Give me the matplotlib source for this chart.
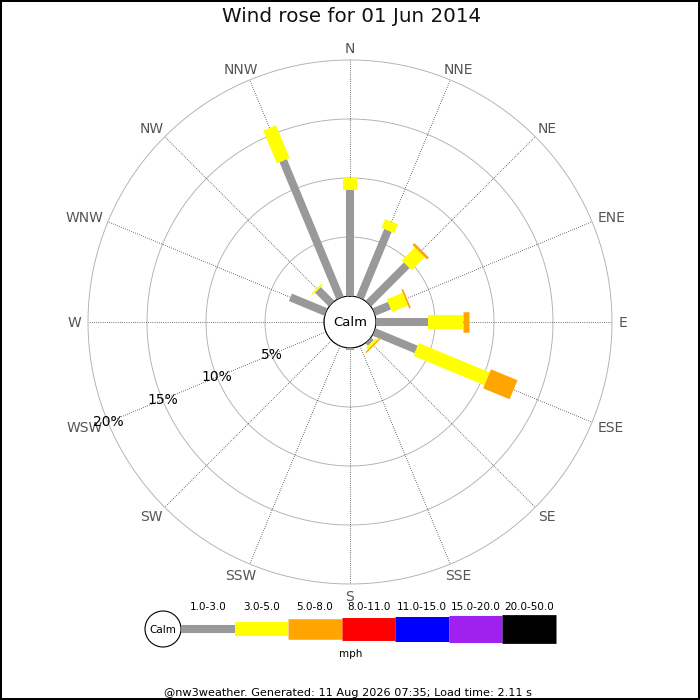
import numpy as np
import matplotlib
matplotlib.use("Agg")
import matplotlib.pyplot as plt
from matplotlib.patches import Circle

# ---------------- data ----------------
directions = ["N", "NNE", "NE", "ENE", "E", "ESE", "SE", "SSE",
              "S", "SSW", "SW", "WSW", "W", "WNW", "NW", "NNW"]
speed_bins = ["1.0-3.0", "3.0-5.0", "5.0-8.0", "8.0-11.0",
              "11.0-15.0", "15.0-20.0", "20.0-50.0"]
bin_colors = ["#999999", "#ffff00", "#ffa500", "#ff0000",
              "#0000ff", "#a020f0", "#000000"]
# percentage of time per direction for each speed bin
pct_1_3   = [9.0, 6.2, 4.6, 1.42, 4.38, 3.87, 0.30, 0.0, 0.15, 0.05, 0.0, 0.0, 0.0, 3.26, 1.65, 12.6]
pct_3_5   = [1.0, 0.8, 1.56, 1.45, 3.02, 6.50, 0.22, 0.0, 0.0, 0.0, 0.0, 0.0, 0.0, 0.0, 0.15, 3.0]
pct_5_8   = [0.0, 0.0, 0.23, 0.15, 0.48, 2.43, 0.12, 0.0, 0.0, 0.0, 0.0, 0.0, 0.0, 0.0, 0.0, 0.0]
pct_8_11  = [0.0] * 16
pct_11_15 = [0.0] * 16
pct_15_20 = [0.0] * 16
pct_20_50 = [0.0] * 16
ring_values = [5, 10, 15, 20]
ring_labels = ["5%", "10%", "15%", "20%"]
title = "Wind rose for 01 Jun 2014"
unit_label = "mph"
footer = "@nw3weather. Generated: 11 Aug 2026 07:35; Load time: 2.11 s"

series = [pct_1_3, pct_3_5, pct_5_8, pct_8_11, pct_11_15, pct_15_20, pct_20_50]
bar_widths_pt = [5.8, 10.0, 14.8, 16.5, 18.0, 19.5, 20.7]

# ---------------- figure ----------------
W = H = 700
fig = plt.figure(figsize=(7, 7), dpi=100, facecolor="white",
                 edgecolor="black", linewidth=1.5)

cx, cy, R = 350, 322, 262
calm_r = 26
ax = fig.add_axes([(cx - R) / W, (H - cy - R) / H, 2 * R / W, 2 * R / H],
                  projection="polar")
ax.set_theta_zero_location("N")
ax.set_theta_direction(-1)
rmax = 20.0
ax.set_ylim(0, rmax)
ax.set_rorigin(-rmax * calm_r / (R - calm_r))
ax.grid(False)
ax.set_xticks([])
ax.set_yticks([])
for s in ax.spines.values():
    s.set_visible(False)
ax.patch.set_alpha(0)

full = np.linspace(0, 2 * np.pi, 721)
for rv in ring_values:
    ax.plot(full, np.full_like(full, rv), color="#b0b0b0", lw=0.65,
            zorder=1, clip_on=False)
# calm circle edge
ax.plot(full, np.zeros_like(full), color="#aaaaaa", lw=0.7, zorder=1, clip_on=False)

thetas = np.deg2rad(np.arange(16) * 22.5)
for t in thetas:
    ax.plot([t, t], [0, rmax], color="#444444", lw=0.6,
            linestyle=(0, (1, 1.6)), zorder=1, clip_on=False)

# direction labels: placed just outside the outer ring, pushed out by half the text size
fig.canvas.draw()
renderer = fig.canvas.get_renderer()
dir_texts = []
for t, name in zip(thetas, directions):
    a = ax.annotate(name, xy=(t, rmax), xytext=(0, 0), textcoords="offset pixels",
                    ha="center", va="baseline", color="#555555", fontsize=10,
                    annotation_clip=False)
    dir_texts.append((t, a))
cap_h = 10.0
gap = 7.0
for t, a in dir_texts:
    bb = a.get_window_extent(renderer)
    w = bb.width
    ux, uy = np.sin(t), np.cos(t)
    dx = gap * ux + (w / 2) * ux
    dy = gap * uy + (cap_h / 2) * uy - cap_h / 2
    a.xyann = (dx, dy)

wsw = np.deg2rad(247.5)
for rv, lab in zip(ring_values, ring_labels):
    ax.text(wsw, rv, lab, ha="center", va="center", color="black",
            fontsize=10, zorder=5)

# bars
for i, t in enumerate(thetas):
    base = 0.0
    for k, s in enumerate(series):
        v = s[i]
        if v <= 0:
            continue
        ax.plot([t, t], [base, base + v], color=bin_colors[k],
                lw=bar_widths_pt[k], solid_capstyle="butt", zorder=3 + k * 0.01)
        base += v

ax.text(0.5, 0.5, "Calm", transform=ax.transAxes, ha="center", va="center",
        fontsize=9.5, color="black", zorder=6)

# ---------------- overlay: title, legend, footer ----------------
ov = fig.add_axes([0, 0, 1, 1])
ov.set_xlim(0, W)
ov.set_ylim(H, 0)
ov.axis("off")
ov.patch.set_alpha(0)

ov.text(352, 17, title, ha="center", va="center", fontsize=14.3, color="#111111")

lx0, lx1, ly = 181, 556, 629
seg = (lx1 - lx0) / len(speed_bins)
ov.add_patch(Circle((163, ly), 18, facecolor="white", edgecolor="black", lw=0.8))
ov.text(163, ly + 1, "Calm", ha="center", va="center", fontsize=7.5)
for k, lab in enumerate(speed_bins):
    x0 = lx0 + k * seg
    ov.plot([x0, x0 + seg], [ly, ly], color=bin_colors[k],
            lw=bar_widths_pt[k], solid_capstyle="butt")
    ov.text(x0 + seg / 2, 607, lab, ha="center", va="center", fontsize=7.5)
ov.text(351, 654, unit_label, ha="center", va="center", fontsize=7.5)
ov.text(348, 693, footer, ha="center", va="center", fontsize=8.15)

fig.savefig("out.png", dpi=100, facecolor="white", edgecolor="black")
